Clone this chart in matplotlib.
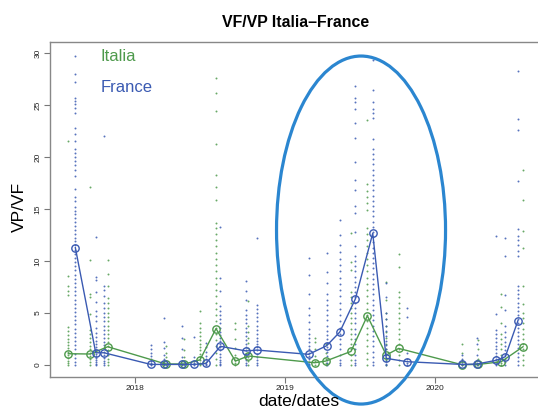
import matplotlib
matplotlib.use("Agg")
import matplotlib.pyplot as plt
from matplotlib.patches import Ellipse

plt.rcParams['font.family'] = ['Liberation Sans', 'DejaVu Sans']

# dates as decimal years
fr_dates = [2017.602, 2017.738, 2017.793, 2018.105, 2018.195, 2018.315, 2018.395,
            2018.473, 2018.569, 2018.742, 2018.813, 2019.158, 2019.278, 2019.365,
            2019.469, 2019.585, 2019.675, 2019.815, 2020.180, 2020.280, 2020.407,
            2020.469, 2020.553]
fr_means = [11.28, 1.18, 1.18, 0.06, 0.06, 0.06, 0.06, 0.15, 1.8, 1.35, 1.44, 1.03,
            1.86, 3.17, 6.35, 12.66, 0.64, 0.32, 0.06, 0.1, 0.45, 0.8, 4.26]
fr_obs = [
    [29.7, 28.0, 27.2, 25.7, 25.4, 25.1, 24.7, 24.2, 22.8, 22.2, 21.5, 20.8, 20.4,
     20.0, 19.6, 19.2, 18.8, 18.2, 16.9, 16.2, 15.8, 15.2, 14.8, 14.5, 14.1, 13.8,
     13.4, 13.0, 12.6, 12.2, 11.9, 11.5, 11.1, 10.7, 10.3, 9.9, 9.5, 9.1, 8.7, 8.3,
     7.9, 7.5, 7.1, 6.7, 6.3, 5.9, 5.5, 5.1, 4.7, 4.3, 3.9, 3.5, 3.1, 2.7, 2.3, 1.9,
     1.5, 1.1, 0.7, 0.3, 0.0],
    [12.3, 8.5, 8.2, 7.0, 6.1, 5.2, 4.7, 4.2, 3.6, 3.1, 2.7, 2.3, 2.0, 1.7, 1.4, 1.1,
     0.9, 0.7, 0.5, 0.3, 0.1, 0.0],
    [22.0, 7.6, 7.2, 6.6, 6.0, 5.5, 5.0, 4.6, 4.2, 3.8, 3.4, 3.0, 2.6, 2.2, 1.9, 1.6,
     1.3, 1.0, 0.7, 0.4, 0.2, 0.0],
    [1.9, 1.5, 1.2, 0.9, 0.6, 0.4, 0.2, 0.1, 0.0],
    [4.5, 2.2, 1.6, 1.0, 0.6, 0.3, 0.1, 0.0],
    [3.8, 2.6, 1.5, 0.8, 0.4, 0.1, 0.0],
    [2.7, 0.8, 0.4, 0.2, 0.0],
    [2.1, 1.7, 1.3, 0.9, 0.6, 0.3, 0.1, 0.0],
    [13.3, 8.4, 7.1, 5.7, 5.2, 4.8, 4.4, 4.0, 3.6, 3.2, 2.9, 2.6, 2.3, 2.0, 1.7, 1.4,
     1.1, 0.8, 0.5, 0.3, 0.1, 0.0],
    [8.1, 7.1, 6.3, 5.3, 4.8, 4.4, 4.0, 3.6, 3.2, 2.8, 2.4, 2.0, 1.7, 1.4, 1.1, 0.8,
     0.5, 0.2, 0.0],
    [12.2, 5.8, 5.4, 5.0, 4.6, 4.2, 3.8, 3.4, 3.0, 2.6, 2.3, 2.0, 1.7, 1.4, 1.1, 0.8,
     0.5, 0.2, 0.0],
    [10.3, 8.7, 6.8, 5.5, 4.8, 4.1, 3.5, 3.0, 2.6, 2.2, 1.8, 1.5, 1.2, 0.9, 0.6, 0.3,
     0.1, 0.0],
    [10.8, 8.9, 7.9, 6.8, 6.3, 5.8, 5.3, 4.8, 4.3, 3.8, 3.3, 2.9, 2.5, 2.1, 1.7, 1.3,
     0.9, 0.5, 0.2, 0.0],
    [13.9, 12.5, 11.5, 10.9, 10.2, 9.6, 9.0, 8.4, 7.8, 7.2, 6.6, 6.0, 5.4, 4.8, 4.2,
     3.6, 3.0, 2.5, 2.0, 1.5, 1.0, 0.5, 0.2, 0.0],
    [26.8, 25.7, 25.3, 24.6, 23.3, 21.8, 19.5, 17.8, 16.8, 15.3, 14.6, 12.8, 11.4,
     10.5, 10.0, 9.5, 9.0, 8.5, 8.0, 7.5, 7.0, 6.5, 6.0, 5.5, 5.0, 4.5, 4.0, 3.5, 3.0,
     2.5, 2.0, 1.5, 1.0, 0.5, 0.2, 0.0],
    [29.3, 26.4, 25.3, 24.6, 24.2, 23.8, 21.7, 20.8, 20.3, 19.8, 19.3, 18.8, 18.3,
     17.8, 17.3, 16.8, 16.3, 15.8, 15.3, 14.8, 14.3, 13.8, 13.3, 12.8, 12.3, 11.8,
     11.3, 10.8, 10.3, 9.8, 9.3, 8.8, 8.3, 7.8, 7.3, 6.8, 6.3, 5.8, 5.3, 4.8, 4.3,
     3.8, 3.3, 2.8, 2.3, 1.8, 1.3, 0.8, 0.3, 0.0],
    [7.9, 6.5, 5.0, 4.4, 3.8, 3.3, 2.8, 2.3, 1.9, 1.5, 1.1, 0.7, 0.4, 0.1, 0.0],
    [5.5, 4.6, 1.2, 0.6, 0.2, 0.0],
    [0.96, 0.6, 0.3, 0.1, 0.0],
    [2.6, 2.0, 1.0, 0.5, 0.2, 0.0],
    [12.4, 4.9, 3.4, 3.0, 2.6, 2.2, 1.8, 1.5, 1.2, 0.9, 0.6, 0.3, 0.1, 0.0],
    [12.2, 10.5, 6.7, 5.3, 3.8, 3.2, 2.7, 2.2, 1.8, 1.4, 1.0, 0.6, 0.3, 0.0],
    [28.3, 23.7, 22.6, 17.7, 13.1, 12.4, 12.0, 11.5, 11.0, 10.5, 7.6, 7.2, 6.8, 6.4,
     6.0, 5.6, 5.2, 4.8, 4.4, 4.0, 3.6, 3.2, 2.8, 2.4, 2.0, 1.6, 1.2, 0.8, 0.4, 0.0],
]

it_dates = [2017.555, 2017.700, 2017.818, 2018.205, 2018.329, 2018.433, 2018.540,
            2018.669, 2018.755, 2019.198, 2019.271, 2019.440, 2019.549, 2019.675,
            2019.758, 2020.180, 2020.289, 2020.442, 2020.587]
it_means = [1.09, 1.06, 1.76, 0.1, 0.1, 0.5, 3.5, 0.38, 0.87, 0.22, 0.38, 1.31, 4.74,
            0.96, 1.6, 0.03, 0.06, 0.32, 1.76]
it_obs = [
    [21.5, 8.6, 7.6, 7.1, 6.7, 3.7, 3.3, 2.9, 2.5, 2.2, 1.9, 1.6, 1.3, 1.0, 0.7, 0.4,
     0.2, 0.0],
    [17.1, 10.1, 6.8, 6.5, 4.9, 3.4, 3.0, 2.6, 2.2, 1.8, 1.5, 1.2, 0.9, 0.6, 0.3, 0.0],
    [10.1, 8.8, 7.6, 6.4, 6.0, 5.5, 5.0, 4.6, 4.2, 3.8, 3.4, 3.0, 2.6, 2.2, 1.8, 1.4,
     1.0, 0.6, 0.3, 0.0],
    [1.8, 1.2, 0.8, 0.4, 0.1, 0.0],
    [2.5, 1.4, 0.8, 0.3, 0.0],
    [5.2, 4.0, 3.6, 3.2, 2.8, 2.4, 2.0, 1.7, 1.4, 1.1, 0.8, 0.5, 0.2, 0.0],
    [27.6, 26.2, 24.4, 21.3, 18.3, 17.1, 15.9, 13.7, 13.2, 12.6, 12.0, 11.4, 10.8,
     10.2, 9.6, 9.0, 8.4, 7.8, 7.2, 6.6, 6.0, 5.4, 4.8, 4.2, 3.6, 3.0, 2.4, 1.8, 1.2,
     0.6, 0.0],
    [4.0, 3.5, 2.5, 1.6, 1.0, 0.5, 0.2, 0.0],
    [6.2, 3.8, 3.2, 2.6, 2.1, 1.6, 1.2, 0.8, 0.4, 0.0],
    [2.6, 2.2, 1.5, 0.9, 0.4, 0.0],
    [2.0, 1.2, 0.6, 0.2, 0.0],
    [12.7, 9.9, 9.1, 7.0, 6.5, 6.0, 5.5, 5.0, 4.5, 4.0, 3.5, 3.0, 2.5, 2.0, 1.5, 1.0,
     0.5, 0.0],
    [23.6, 17.4, 16.7, 16.2, 15.6, 14.9, 13.2, 12.6, 12.0, 11.4, 10.8, 10.2, 9.6, 9.0,
     8.4, 7.8, 7.2, 6.6, 6.0, 5.4, 4.8, 4.2, 3.6, 3.0, 2.4, 1.8, 1.2, 0.6, 0.0],
    [8.0, 6.3, 5.0, 4.4, 3.8, 3.2, 2.6, 2.0, 1.5, 1.0, 0.5, 0.0],
    [10.7, 9.4, 7.0, 6.5, 6.0, 5.5, 5.0, 4.5, 4.0, 3.5, 3.0, 2.5, 2.0, 1.5, 1.0, 0.5,
     0.0],
    [2.0, 1.2, 0.5, 0.0],
    [2.4, 1.5, 0.6, 0.0],
    [6.8, 5.6, 4.0, 3.0, 2.5, 2.0, 1.5, 1.0, 0.6, 0.2, 0.0],
    [18.75, 15.9, 12.9, 11.3, 7.6, 5.9, 5.0, 4.5, 4.0, 3.5, 3.0, 2.5, 2.0, 1.5, 1.0,
     0.5, 0.0],
]

year_ticks = [2018, 2019, 2020]
green = "#4e9a4c"
blue = "#3a5ab2"

W, H = 538, 409
fig = plt.figure(figsize=(W / 100, H / 100), dpi=100)
ax = fig.add_axes([50 / W, 32 / H, 491 / W, 335 / H])

for dates, obs, col in ((it_dates, it_obs, green), (fr_dates, fr_obs, blue)):
    for d, vals in zip(dates, obs):
        ax.scatter([d] * len(vals), vals, s=2.0, color=col, alpha=0.85,
                   linewidths=0, zorder=2)

ax.plot(it_dates, it_means, color=green, lw=1.0, marker="o", ms=5.3,
        mfc="none", mec=green, mew=1.0, zorder=3)
ax.plot(fr_dates, fr_means, color=blue, lw=1.0, marker="o", ms=5.3,
        mfc="none", mec=blue, mew=1.0, zorder=4)

ax.text(2017.77, 29.7, "Italia", color=green, fontsize=12, va="center")
ax.text(2017.77, 26.7, "France", color=blue, fontsize=12, va="center")

ell = Ellipse((2019.507, 12.98), width=1.127, height=33.46, fill=False,
              edgecolor="#2b86d0", lw=2.3, clip_on=False, zorder=5)
ax.add_patch(ell)

ax.set_xlim(2017.433, 2020.707)
ax.set_ylim(-1.15, 31.06)
ax.set_xticks(year_ticks)
ax.set_xticklabels([str(y) for y in year_ticks])
ax.set_yticks([0, 5, 10, 15, 20, 25, 30])
for lab in ax.get_yticklabels():
    lab.set_rotation(90)
    lab.set_va("center")
ax.tick_params(labelsize=6, length=4, width=0.8, color="#777777",
               labelcolor="#222222", pad=2)

for side in ("left", "top", "bottom", "right"):
    ax.spines[side].set_color("#888888")
    ax.spines[side].set_linewidth(1.0)

fig.text(295.5 / W, 1 - 22.5 / H, "VF/VP Italia\u2013France", fontsize=11.4,
         fontweight="bold", ha="center", va="center")
fig.text(299 / W, 1 - 393.5 / H, "date/dates", fontsize=12.5, ha="center", va="top")
fig.text(19 / W, 1 - 207 / H, "VP/VF", fontsize=12.5, rotation=90,
         ha="center", va="center")

fig.savefig("out.png", dpi=100)
